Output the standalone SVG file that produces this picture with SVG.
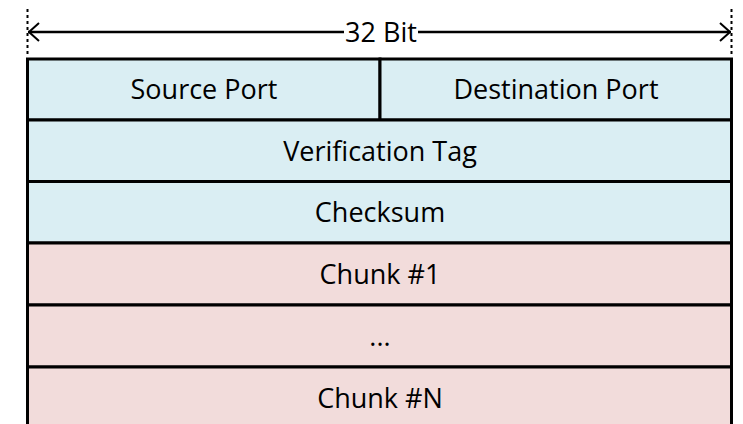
<svg xmlns="http://www.w3.org/2000/svg" width="743" height="424" viewBox="0 0 743 424">
<defs>
<style>
.t{font-family:"Open Sans","Liberation Sans",sans-serif;font-size:27px;fill:#000;text-anchor:middle;dominant-baseline:central}
.b{fill:#DAEEF3;stroke:#000;stroke-width:3}
.p{fill:#F2DCDB;stroke:#000;stroke-width:3}
.dot{stroke:#000;stroke-width:2;stroke-dasharray:3 3}
</style>
<marker id="ah" viewBox="0 0 12 20" refX="12" refY="10" markerWidth="12" markerHeight="20" markerUnits="userSpaceOnUse" orient="auto-start-reverse">
<path d="M1,1 L11,10 L1,19" fill="none" stroke="#000" stroke-width="2"/>
</marker>
</defs>
<g id="connectors">
<line class="dot" x1="27.5" y1="9" x2="27.5" y2="56"/>
<line class="dot" x1="731.5" y1="9" x2="731.5" y2="56"/>
<line x1="28" y1="32" x2="731" y2="32" stroke="#000" stroke-width="2.5" marker-start="url(#ah)" marker-end="url(#ah)"/>
</g>
<g id="width-label">
<rect x="344" y="18" width="74" height="28" fill="#fff"/>
<text class="t" x="381" y="31">32 Bit</text>
</g>
<g id="source-port"><rect class="b" x="27.5" y="59" width="352.5" height="61"/><text class="t" x="204" y="88">Source Port</text></g>
<g id="destination-port"><rect class="b" x="380" y="59" width="351.5" height="61"/><text class="t" x="556" y="88">Destination Port</text></g>
<g id="verification-tag"><rect class="b" x="27.5" y="120" width="704" height="61.5"/><text class="t" x="380" y="150">Verification Tag</text></g>
<g id="checksum"><rect class="b" x="27.5" y="181.5" width="704" height="61.5"/><text class="t" x="380" y="211">Checksum</text></g>
<g id="chunk-1"><rect class="p" x="27.5" y="243" width="704" height="62"/><text class="t" x="380" y="273">Chunk #1</text></g>
<g id="ellipsis"><rect class="p" x="27.5" y="305" width="704" height="62"/><text class="t" x="380" y="335">...</text></g>
<g id="chunk-n"><rect class="p" x="27.5" y="367" width="704" height="70"/><text class="t" x="380" y="397">Chunk #N</text></g>
</svg>
